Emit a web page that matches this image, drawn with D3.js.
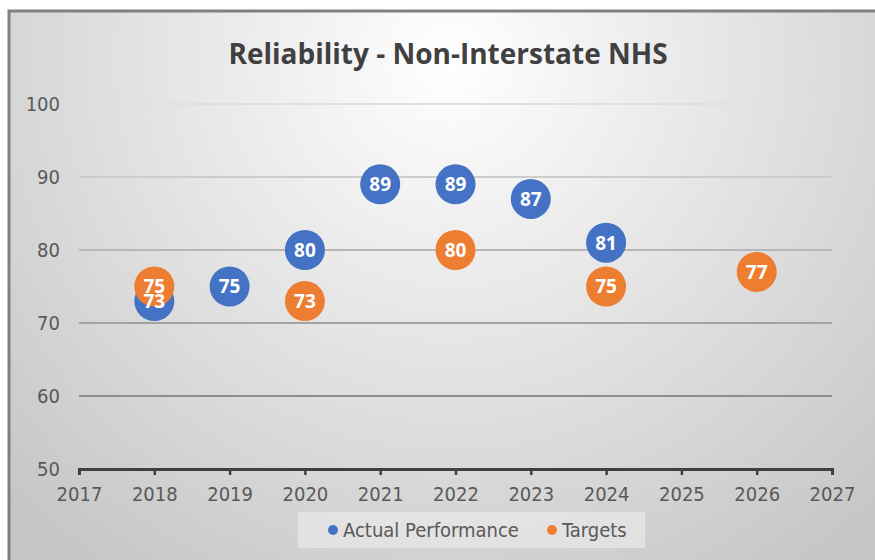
<!DOCTYPE html>
<html>
<head>
<meta charset="utf-8">
<script src="https://cdn.jsdelivr.net/npm/d3@7"></script>
<style>
  body { margin: 0; background: #fff; }
  text { font-family: "Open Sans", sans-serif; }
</style>
</head>
<body>
<div id="chart"></div>
<script>
// data
var years = [2018, 2019, 2020, 2021, 2022, 2023, 2024];
var actual = [73, 75, 80, 89, 89, 87, 81];
var targetYears = [2018, 2020, 2022, 2024, 2026];
var targets = [75, 73, 80, 75, 77];
var xTicks = [2017, 2018, 2019, 2020, 2021, 2022, 2023, 2024, 2025, 2026, 2027];
var yTicks = [50, 60, 70, 80, 90, 100];
var seriesNames = ["Actual Performance", "Targets"];

var W = 875, H = 560;
var blue = "#4472C4", orange = "#ED7D31";
var axisFont = "'DejaVu Sans Condensed', 'Liberation Sans', sans-serif";

var svg = d3.select("#chart").append("svg")
  .attr("width", W)
  .attr("height", H);

// background gradient
var defs = svg.append("defs");
var grad = defs.append("radialGradient")
  .attr("id", "bg")
  .attr("gradientUnits", "userSpaceOnUse")
  .attr("cx", 450).attr("cy", 60).attr("r", 620);
grad.append("stop").attr("offset", "0%").attr("stop-color", "#ffffff");
grad.append("stop").attr("offset", "100%").attr("stop-color", "#c6c6c6");

svg.append("rect")
  .attr("x", 9).attr("y", 11)
  .attr("width", W).attr("height", H)
  .attr("fill", "url(#bg)")
  .attr("stroke", "#808080")
  .attr("stroke-width", 3);

var x = d3.scaleLinear().domain([2017, 2027]).range([79, 832]);
var y = d3.scaleLinear().domain([50, 100]).range([469, 104]);

// title
svg.append("text")
  .attr("x", 448).attr("y", 64)
  .attr("text-anchor", "middle")
  .attr("font-size", 28)
  .attr("font-weight", "bold")
  .attr("fill", "#404040")
  .text("Reliability - Non-Interstate NHS");

// gridlines, darker lower down
var gridColor = d3.scaleLinear().domain([100, 60]).range(["#e0e0e0", "#8e8e8e"]);
svg.selectAll(".grid")
  .data(yTicks.filter(function(d) { return d > 50; }))
  .enter()
  .append("line")
  .attr("x1", x(2017)).attr("x2", x(2027))
  .attr("y1", function(d) { return y(d); })
  .attr("y2", function(d) { return y(d); })
  .attr("stroke", function(d) { return gridColor(d); })
  .attr("stroke-width", 2);

// y axis labels
var yAxis = d3.axisLeft(y).tickValues(yTicks).tickSize(0).tickPadding(0);
var yg = svg.append("g").attr("transform", "translate(60,0)").call(yAxis);
yg.select(".domain").remove();
yg.selectAll("text")
  .attr("font-size", 20)
  .attr("fill", "#595959")
  .style("font-family", axisFont);

// x axis
var xAxis = d3.axisBottom(x).tickValues(xTicks).tickFormat(d3.format("d")).tickSizeInner(6).tickSizeOuter(6).tickPadding(12);
var xg = svg.append("g").attr("transform", "translate(0," + y(50) + ")").call(xAxis);
xg.select(".domain").attr("stroke", "#404040").attr("stroke-width", 3);
xg.selectAll(".tick line").attr("stroke", "#404040").attr("stroke-width", 2.5);
xg.selectAll("text")
  .attr("font-size", 20)
  .attr("fill", "#595959")
  .style("font-family", axisFont);

// points
var r = 20;
var actualPts = years.map(function(d, i) { return { yr: d, v: actual[i] }; });
var targetPts = targetYears.map(function(d, i) { return { yr: d, v: targets[i] }; });

svg.selectAll(".act")
  .data(actualPts)
  .enter()
  .append("circle")
  .attr("cx", function(d) { return x(d.yr); })
  .attr("cy", function(d) { return y(d.v); })
  .attr("r", r)
  .attr("fill", blue);

svg.selectAll(".tgt")
  .data(targetPts)
  .enter()
  .append("circle")
  .attr("cx", function(d) { return x(d.yr); })
  .attr("cy", function(d) { return y(d.v); })
  .attr("r", r)
  .attr("fill", orange);

// labels on top
svg.selectAll(".lbl")
  .data(actualPts.concat(targetPts))
  .enter()
  .append("text")
  .attr("x", function(d) { return x(d.yr); })
  .attr("y", function(d) { return y(d.v); })
  .attr("dy", "0.36em")
  .attr("text-anchor", "middle")
  .attr("font-size", 19)
  .attr("font-weight", "bold")
  .attr("fill", "#ffffff")
  .text(function(d) { return d.v; });

// legend
var lg = svg.append("g");
lg.append("rect")
  .attr("x", 298).attr("y", 512)
  .attr("width", 347).attr("height", 36)
  .attr("fill", "#e6e6e6")
  .attr("opacity", 0.8);
var legendX = [333, 552];
var legendColors = [blue, orange];
seriesNames.forEach(function(name, i) {
  lg.append("circle")
    .attr("cx", legendX[i]).attr("cy", 530)
    .attr("r", 5)
    .attr("fill", legendColors[i]);
  lg.append("text")
    .attr("x", legendX[i] + 10).attr("y", 530)
    .attr("dy", "0.35em")
    .attr("font-size", 20)
    .attr("fill", "#595959")
    .style("font-family", axisFont)
    .text(name);
});
</script>
</body>
</html>
